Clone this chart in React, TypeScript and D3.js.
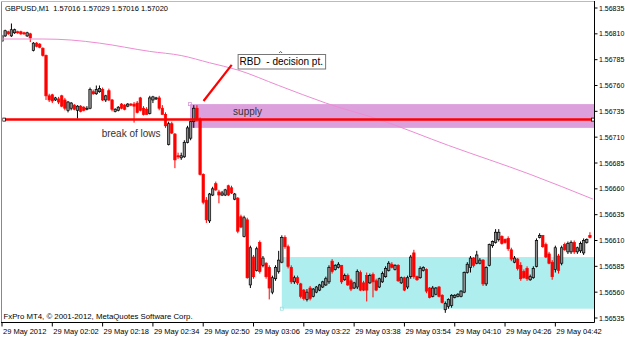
import React from 'react';
import * as d3 from 'd3';

const W = 625;
const H = 337;

// bar 0 = 29 May 2012 01:46, one bar per minute (M1)
const opens = [
  1.56803, 1.56808, 1.56812, 1.56808, 1.56811, 1.56812, 1.56812, 1.56811, 1.56808, 1.56810,
  1.56794, 1.56801, 1.56800, 1.56796, 1.56789, 1.56750, 1.56751, 1.56746, 1.56747, 1.56750,
  1.56746, 1.56736, 1.56738, 1.56741, 1.56736, 1.56740, 1.56739, 1.56737, 1.56738, 1.56754,
  1.56752, 1.56754, 1.56756, 1.56746, 1.56755, 1.56746, 1.56735, 1.56736, 1.56742, 1.56741,
  1.56740, 1.56742, 1.56742, 1.56743, 1.56748, 1.56738, 1.56737, 1.56733, 1.56746, 1.56747,
  1.56748, 1.56738, 1.56732, 1.56703, 1.56723, 1.56713, 1.56692, 1.56690, 1.56691, 1.56705,
  1.56709, 1.56725, 1.56738, 1.56727, 1.56674, 1.56649, 1.56629, 1.56654, 1.56665, 1.56657,
  1.56654, 1.56654, 1.56663, 1.56661, 1.56650, 1.56651, 1.56633, 1.56614, 1.56630, 1.56567,
  1.56594, 1.56581, 1.56608, 1.56586, 1.56588, 1.56584, 1.56560, 1.56573, 1.56580, 1.56589,
  1.56613, 1.56604, 1.56584, 1.56570, 1.56574, 1.56568, 1.56562, 1.56553, 1.56564, 1.56556,
  1.56560, 1.56562, 1.56565, 1.56567, 1.56570, 1.56590, 1.56582, 1.56584, 1.56586, 1.56572,
  1.56576, 1.56571, 1.56564, 1.56565, 1.56579, 1.56569, 1.56576, 1.56569, 1.56577, 1.56571,
  1.56565, 1.56570, 1.56575, 1.56581, 1.56587, 1.56582, 1.56586, 1.56569, 1.56574, 1.56565,
  1.56575, 1.56598, 1.56575, 1.56574, 1.56581, 1.56582, 1.56564, 1.56556, 1.56558, 1.56565,
  1.56557, 1.56543, 1.56546, 1.56547, 1.56555, 1.56556, 1.56556, 1.56560, 1.56579, 1.56584,
  1.56593, 1.56588, 1.56588, 1.56591, 1.56568, 1.56586, 1.56605, 1.56608, 1.56611, 1.56614,
  1.56611, 1.56612, 1.56601, 1.56589, 1.56592, 1.56586, 1.56580, 1.56583, 1.56572, 1.56574,
  1.56585, 1.56613, 1.56615, 1.56606, 1.56597, 1.56589, 1.56582, 1.56595, 1.56588, 1.56606,
  1.56599, 1.56599, 1.56608, 1.56599, 1.56600, 1.56598, 1.56608, 1.56615,
];

const highs = [
  1.56809, 1.56814, 1.56813, 1.56820, 1.56815, 1.56813, 1.56813, 1.56812, 1.56812, 1.56811,
  1.56802, 1.56802, 1.56801, 1.56797, 1.56790, 1.56752, 1.56752, 1.56749, 1.56749, 1.56751,
  1.56748, 1.56745, 1.56744, 1.56742, 1.56741, 1.56741, 1.56740, 1.56740, 1.56758, 1.56756,
  1.56760, 1.56760, 1.56758, 1.56751, 1.56757, 1.56747, 1.56738, 1.56740, 1.56743, 1.56742,
  1.56743, 1.56743, 1.56744, 1.56745, 1.56749, 1.56740, 1.56739, 1.56750, 1.56750, 1.56749,
  1.56750, 1.56741, 1.56734, 1.56725, 1.56725, 1.56714, 1.56695, 1.56695, 1.56707, 1.56721,
  1.56726, 1.56741, 1.56741, 1.56729, 1.56675, 1.56652, 1.56656, 1.56662, 1.56667, 1.56659,
  1.56658, 1.56660, 1.56664, 1.56663, 1.56656, 1.56652, 1.56635, 1.56634, 1.56632, 1.56605,
  1.56596, 1.56604, 1.56610, 1.56595, 1.56589, 1.56586, 1.56576, 1.56586, 1.56600, 1.56615,
  1.56615, 1.56606, 1.56586, 1.56576, 1.56576, 1.56569, 1.56563, 1.56563, 1.56566, 1.56564,
  1.56566, 1.56568, 1.56571, 1.56575, 1.56586, 1.56592, 1.56587, 1.56589, 1.56586, 1.56578,
  1.56578, 1.56573, 1.56570, 1.56582, 1.56581, 1.56571, 1.56579, 1.56578, 1.56579, 1.56573,
  1.56574, 1.56580, 1.56585, 1.56590, 1.56589, 1.56587, 1.56587, 1.56575, 1.56575, 1.56576,
  1.56596, 1.56601, 1.56576, 1.56585, 1.56585, 1.56583, 1.56565, 1.56566, 1.56565, 1.56566,
  1.56558, 1.56551, 1.56554, 1.56558, 1.56558, 1.56559, 1.56562, 1.56580, 1.56589, 1.56595,
  1.56594, 1.56600, 1.56593, 1.56592, 1.56585, 1.56607, 1.56610, 1.56621, 1.56621, 1.56615,
  1.56612, 1.56614, 1.56603, 1.56595, 1.56593, 1.56589, 1.56582, 1.56585, 1.56577, 1.56585,
  1.56612, 1.56617, 1.56615, 1.56608, 1.56599, 1.56591, 1.56605, 1.56597, 1.56605, 1.56608,
  1.56609, 1.56610, 1.56610, 1.56604, 1.56609, 1.56612, 1.56612, 1.56618,
];

const lows = [
  1.56802, 1.56807, 1.56809, 1.56807, 1.56810, 1.56810, 1.56809, 1.56809, 1.56807, 1.56802,
  1.56793, 1.56797, 1.56796, 1.56788, 1.56746, 1.56744, 1.56743, 1.56745, 1.56742, 1.56739,
  1.56736, 1.56734, 1.56736, 1.56736, 1.56728, 1.56734, 1.56735, 1.56736, 1.56737, 1.56751,
  1.56751, 1.56753, 1.56745, 1.56744, 1.56745, 1.56735, 1.56734, 1.56735, 1.56737, 1.56736,
  1.56739, 1.56740, 1.56724, 1.56733, 1.56735, 1.56731, 1.56732, 1.56732, 1.56743, 1.56746,
  1.56736, 1.56732, 1.56719, 1.56702, 1.56713, 1.56680, 1.56689, 1.56688, 1.56690, 1.56704,
  1.56707, 1.56719, 1.56725, 1.56673, 1.56645, 1.56627, 1.56627, 1.56653, 1.56658, 1.56646,
  1.56653, 1.56653, 1.56653, 1.56655, 1.56649, 1.56617, 1.56622, 1.56613, 1.56573, 1.56564,
  1.56573, 1.56580, 1.56578, 1.56584, 1.56573, 1.56553, 1.56558, 1.56571, 1.56578, 1.56588,
  1.56602, 1.56583, 1.56568, 1.56568, 1.56567, 1.56554, 1.56552, 1.56551, 1.56552, 1.56555,
  1.56559, 1.56561, 1.56564, 1.56566, 1.56568, 1.56578, 1.56581, 1.56583, 1.56568, 1.56571,
  1.56566, 1.56561, 1.56563, 1.56563, 1.56561, 1.56561, 1.56551, 1.56568, 1.56555, 1.56561,
  1.56564, 1.56569, 1.56574, 1.56580, 1.56583, 1.56581, 1.56570, 1.56568, 1.56561, 1.56563,
  1.56573, 1.56573, 1.56571, 1.56573, 1.56580, 1.56559, 1.56554, 1.56555, 1.56557, 1.56555,
  1.56549, 1.56540, 1.56544, 1.56545, 1.56554, 1.56555, 1.56555, 1.56559, 1.56578, 1.56579,
  1.56584, 1.56587, 1.56587, 1.56566, 1.56566, 1.56585, 1.56603, 1.56607, 1.56609, 1.56606,
  1.56607, 1.56600, 1.56590, 1.56588, 1.56581, 1.56571, 1.56573, 1.56571, 1.56571, 1.56573,
  1.56584, 1.56612, 1.56603, 1.56593, 1.56587, 1.56572, 1.56579, 1.56578, 1.56586, 1.56600,
  1.56597, 1.56597, 1.56597, 1.56597, 1.56598, 1.56596, 1.56607, 1.56612,
];

const closes = [
  1.56808, 1.56813, 1.56810, 1.56814, 1.56814, 1.56811, 1.56810, 1.56810, 1.56811, 1.56806,
  1.56801, 1.56798, 1.56797, 1.56789, 1.56750, 1.56746, 1.56745, 1.56748, 1.56744, 1.56740,
  1.56738, 1.56744, 1.56743, 1.56737, 1.56740, 1.56735, 1.56736, 1.56738, 1.56756, 1.56752,
  1.56756, 1.56757, 1.56746, 1.56750, 1.56746, 1.56737, 1.56737, 1.56739, 1.56738, 1.56737,
  1.56742, 1.56741, 1.56740, 1.56734, 1.56736, 1.56732, 1.56732, 1.56748, 1.56749, 1.56748,
  1.56738, 1.56732, 1.56721, 1.56723, 1.56714, 1.56688, 1.56691, 1.56692, 1.56705, 1.56719,
  1.56725, 1.56738, 1.56727, 1.56674, 1.56647, 1.56630, 1.56655, 1.56660, 1.56659, 1.56654,
  1.56656, 1.56659, 1.56654, 1.56656, 1.56655, 1.56619, 1.56623, 1.56632, 1.56574, 1.56603,
  1.56575, 1.56602, 1.56580, 1.56593, 1.56575, 1.56564, 1.56574, 1.56584, 1.56591, 1.56613,
  1.56604, 1.56585, 1.56570, 1.56574, 1.56569, 1.56556, 1.56554, 1.56560, 1.56554, 1.56563,
  1.56565, 1.56567, 1.56570, 1.56573, 1.56584, 1.56580, 1.56586, 1.56587, 1.56570, 1.56576,
  1.56567, 1.56563, 1.56569, 1.56580, 1.56562, 1.56562, 1.56562, 1.56576, 1.56570, 1.56562,
  1.56573, 1.56578, 1.56583, 1.56588, 1.56584, 1.56586, 1.56571, 1.56574, 1.56562, 1.56574,
  1.56594, 1.56575, 1.56572, 1.56583, 1.56584, 1.56561, 1.56555, 1.56564, 1.56564, 1.56556,
  1.56550, 1.56549, 1.56553, 1.56557, 1.56557, 1.56558, 1.56561, 1.56579, 1.56587, 1.56593,
  1.56586, 1.56596, 1.56591, 1.56568, 1.56584, 1.56606, 1.56609, 1.56618, 1.56618, 1.56607,
  1.56608, 1.56602, 1.56592, 1.56593, 1.56583, 1.56573, 1.56574, 1.56573, 1.56575, 1.56583,
  1.56610, 1.56615, 1.56604, 1.56594, 1.56588, 1.56575, 1.56603, 1.56581, 1.56603, 1.56601,
  1.56607, 1.56608, 1.56599, 1.56603, 1.56607, 1.56610, 1.56611, 1.56613,
];

// moving average read at a few bars
const maIndex = [0, 13, 22, 31, 47, 57, 66, 75, 88, 103, 120, 142, 168, 188];
const maValues = [
  1.56805, 1.56805, 1.56804, 1.56801, 1.56793, 1.56789, 1.56782, 1.56775, 1.5676, 1.56743,
  1.56727, 1.56702, 1.56674, 1.5665,
];

const timeTickIndex = [0, 16, 32, 48, 64, 80, 96, 112, 128, 144, 160, 176];
const timeTickLabels = [
  '29 May 2012', '29 May 02:02', '29 May 02:18', '29 May 02:34', '29 May 02:50', '29 May 03:06',
  '29 May 03:22', '29 May 03:38', '29 May 03:54', '29 May 04:10', '29 May 04:26', '29 May 04:42',
];
const priceTicks = [
  1.56835, 1.5681, 1.56785, 1.5676, 1.56735, 1.5671, 1.56685, 1.5666, 1.56635, 1.5661, 1.56585,
  1.5656, 1.56535,
];

// drawn objects (bar index, price)
const breakLevel = 1.56727;
const supplyZone = { start: 59.8, top: 1.56742, bottom: 1.56719 };
const demandZone = { start: 89, top: 1.56594, bottom: 1.56544 };
const arrowLine = { i1: 64.1, p1: 1.56745, i2: 73.06, p2: 1.5678 };
const rbdLabel = { i: 75.1, p: 1.5679, text: 'RBD  - decision pt.' };
const supplyLabel = { i: 73.5, p: 1.56731, text: 'supply' };
const breakLabel = { i: 31.7, p: 1.5671, text: 'break of lows' };

export default function App() {
  const L = 2.5, R = 594.5, T = 1.5, B = 322.5;
  const x = d3.scaleLinear().domain([0, 188]).range([2, 2 + 188 * 3.144]);
  const y = d3.scaleLinear().domain([1.56535, 1.56835]).range([318, 8]);
  const font = "'Liberation Sans', Arial, sans-serif";
  const bw = 2.4;

  const maPath = d3
    .line<number>()
    .x((_, k) => x(maIndex[k]))
    .y((v) => y(v))
    .curve(d3.curveMonotoneX)(maValues) || '';

  const candles = opens.map((o, i) => {
    const c = closes[i];
    const h = Math.max(highs[i], o, c);
    const l = Math.min(lows[i], o, c);
    const bull = c >= o;
    const cx = x(i);
    const yTop = y(Math.max(o, c));
    const yBot = y(Math.min(o, c));
    const bh = Math.max(1, yBot - yTop);
    const col = bull ? '#000' : '#ff0000';
    return (
      <g key={i}>
        <line x1={cx} x2={cx} y1={y(h)} y2={y(l)} stroke={col} strokeWidth={1} />
        <rect
          x={cx - bw / 2}
          y={yTop}
          width={bw}
          height={bh}
          fill={bull ? '#8c8c8c' : '#ff0000'}
          stroke={col}
          strokeWidth={0.7}
        />
      </g>
    );
  });

  const rbdX = x(rbdLabel.i);
  const rbdY = y(rbdLabel.p);

  return (
    <svg
      width={W}
      height={H}
      style={{ position: 'absolute', left: 0, top: 0, background: '#fff' }}
      fontFamily={font}
    >
      <defs>
        <clipPath id="plot">
          <rect x={L} y={T} width={R - L} height={B - T} />
        </clipPath>
      </defs>
      <rect width={W} height={H} fill="#fff" />
      <g clipPath="url(#plot)">
        <rect
          x={x(supplyZone.start)}
          y={y(supplyZone.top)}
          width={R - x(supplyZone.start)}
          height={y(supplyZone.bottom) - y(supplyZone.top)}
          fill="#dca0dc"
        />
        <rect
          x={x(demandZone.start)}
          y={y(demandZone.top)}
          width={R - x(demandZone.start)}
          height={y(demandZone.bottom) - y(demandZone.top)}
          fill="#afeeee"
        />
        {candles}
        <path d={maPath} fill="none" stroke="#ec8cd2" strokeWidth={1} />
        <line x1={L} x2={R} y1={y(breakLevel)} y2={y(breakLevel)} stroke="#ff0000" strokeWidth={2.5} />
        <line
          x1={x(arrowLine.i1)}
          y1={y(arrowLine.p1)}
          x2={x(arrowLine.i2)}
          y2={y(arrowLine.p2)}
          stroke="#ff0000"
          strokeWidth={2.2}
        />
        <rect x={2.5} y={y(breakLevel) - 1.5} width={3} height={3} fill="#fff" stroke="#000" strokeWidth={0.8} />
        <rect x={591.5} y={y(breakLevel) - 1.5} width={3} height={3} fill="#fff" stroke="#000" strokeWidth={0.8} />
        <rect x={x(supplyZone.start) - 1.5} y={y(supplyZone.top) - 1.5} width={3} height={3} fill="none" stroke="#d59ad5" strokeWidth={0.8} />
        <rect x={x(demandZone.start) - 1.5} y={y(demandZone.bottom) - 1.5} width={3} height={3} fill="none" stroke="#9fe0e0" strokeWidth={0.8} />
      </g>

      {/* frame */}
      <line x1={1.5} x2={1.5} y1={1} y2={B} stroke="#888" strokeWidth={1} />
      <line x1={1} x2={R} y1={1.5} y2={1.5} stroke="#bbb" strokeWidth={1} />
      <line x1={R} x2={R} y1={1} y2={B} stroke="#000" strokeWidth={1} />
      <line x1={1} x2={R} y1={B} y2={B} stroke="#000" strokeWidth={1} />

      {/* price axis */}
      {priceTicks.map((p) => (
        <g key={p}>
          <line x1={R} x2={R + 3} y1={y(p)} y2={y(p)} stroke="#000" strokeWidth={1} />
          <text x={599} y={y(p) + 2.5} fontSize={7} fill="#000">
            {p.toFixed(5)}
          </text>
        </g>
      ))}

      {/* time axis */}
      {timeTickIndex.map((t, k) => (
        <g key={t}>
          <line x1={x(t)} x2={x(t)} y1={B} y2={B + 4} stroke="#000" strokeWidth={1} />
          <text x={x(t) + 1} y={334} fontSize={7.5} fill="#000">
            {timeTickLabels[k]}
          </text>
        </g>
      ))}

      {/* labels */}
      <text x={5} y={10.5} fontSize={7.5} fill="#000" style={{ whiteSpace: 'pre' }}>
        {'GBPUSD,M1  1.57016 1.57029 1.57016 1.57020'}
      </text>
      <text x={3.5} y={318.5} fontSize={7.8} fill="#000">
        FxPro MT4, © 2001-2012, MetaQuotes Software Corp.
      </text>

      <rect x={rbdX} y={rbdY} width={87.5} height={14.5} fill="#fff" stroke="#777" strokeWidth={1} />
      <path d={`M${rbdX + 41},${rbdY - 1.5} l1.5,-1.5 l1.5,1.5`} fill="none" stroke="#333" strokeWidth={0.8} />
      <text x={rbdX + 1.5} y={rbdY + 10.5} fontSize={10} fill="#000" style={{ whiteSpace: 'pre' }}>
        {rbdLabel.text}
      </text>
      <text x={x(supplyLabel.i)} y={y(supplyLabel.p)} fontSize={10} fill="#333">
        {supplyLabel.text}
      </text>
      <text x={x(breakLabel.i)} y={y(breakLabel.p)} fontSize={10} fill="#333">
        {breakLabel.text}
      </text>
    </svg>
  );
}
